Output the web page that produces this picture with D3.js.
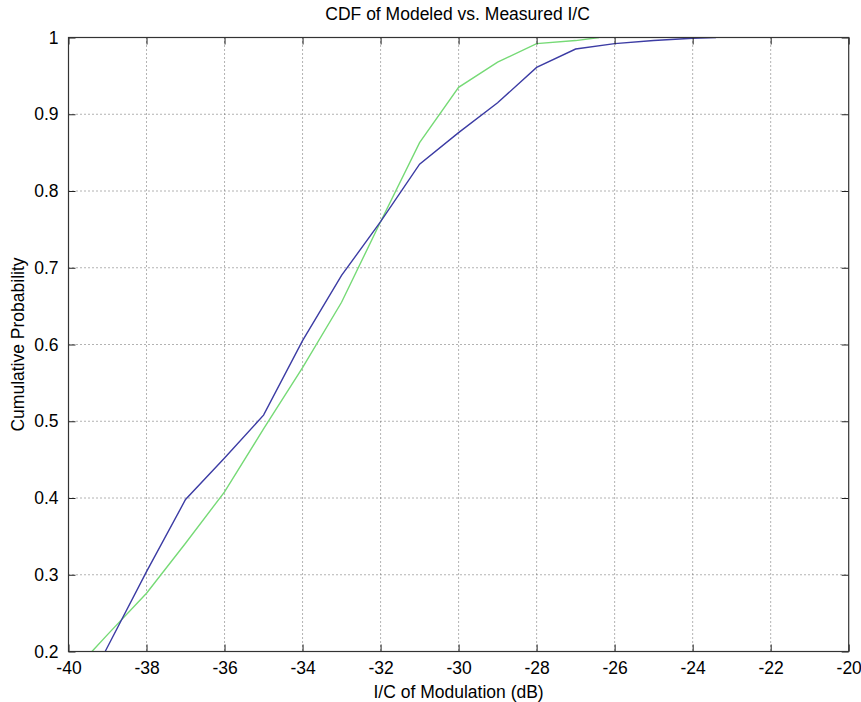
<!DOCTYPE html>
<html>
<head>
<meta charset="utf-8">
<script src="https://cdn.jsdelivr.net/npm/d3@7"></script>
<style>
  html, body { margin: 0; padding: 0; background: #fff; }
  svg { display: block; }
  text { font-family: "Liberation Sans", Arial, Helvetica, sans-serif; fill: #000; }
</style>
</head>
<body>
<svg id="chart" width="861" height="702"></svg>
<script>
// I/C of modulation (dB) and cumulative probability for each curve
const measuredX = [-39.06, -38, -37, -36, -35, -34, -33, -32, -31, -30, -29, -28, -27, -26, -25, -24, -23.4];
const measuredY = [0.2, 0.304, 0.398, 0.452, 0.508, 0.605, 0.69, 0.76, 0.835, 0.876, 0.915, 0.961, 0.985, 0.992, 0.996, 0.999, 1.0];

const modeledX = [-39.4, -39, -38, -37, -36, -35, -34, -33, -32, -31, -30, -29, -28, -27, -26.4];
const modeledY = [0.2, 0.222, 0.276, 0.341, 0.408, 0.49, 0.57, 0.655, 0.76, 0.863, 0.935, 0.968, 0.992, 0.996, 1.0];

const xTicks = [-40, -38, -36, -34, -32, -30, -28, -26, -24, -22, -20];
const yTicks = [0.2, 0.3, 0.4, 0.5, 0.6, 0.7, 0.8, 0.9, 1];

const titleText = "CDF of Modeled vs. Measured I/C";
const xLabelText = "I/C of Modulation (dB)";
const yLabelText = "Cumulative Probability";

const fontSize = "17.5px";
const margin = { left: 68.5, right: 861 - 848.7, top: 37.5, bottom: 702 - 651.5 };
const W = 861, H = 702;
const pw = W - margin.left - margin.right;
const ph = H - margin.top - margin.bottom;

const svg = d3.select("#chart");
const g = svg.append("g").attr("transform", `translate(${margin.left},${margin.top})`);

const x = d3.scaleLinear().domain([-40, -20]).range([0, pw]);
const y = d3.scaleLinear().domain([0.2, 1]).range([ph, 0]);

// dotted grid
const grid = g.append("g").attr("class", "grid");
grid.selectAll("line.vx").data(xTicks.slice(1, -1)).join("line")
  .attr("x1", d => x(d)).attr("x2", d => x(d))
  .attr("y1", 0).attr("y2", ph)
  .attr("stroke", "#666").attr("stroke-width", 1).attr("stroke-dasharray", "1,3");
grid.selectAll("line.hy").data(yTicks.slice(1, -1)).join("line")
  .attr("x1", 0).attr("x2", pw)
  .attr("y1", d => y(d)).attr("y2", d => y(d))
  .attr("stroke", "#666").attr("stroke-width", 1).attr("stroke-dasharray", "1,3");

// data curves, clipped to the axes box
svg.append("clipPath").attr("id", "plotClip")
  .append("rect").attr("x", 0).attr("y", 0).attr("width", pw).attr("height", ph);

const line = d3.line().x(d => x(d[0])).y(d => y(d[1]));
const curves = g.append("g").attr("clip-path", "url(#plotClip)");
curves.append("path")
  .datum(modeledX.map((v, i) => [v, modeledY[i]]))
  .attr("d", line).attr("fill", "none")
  .attr("stroke", "#76da76").attr("stroke-width", 1.4);
curves.append("path")
  .datum(measuredX.map((v, i) => [v, measuredY[i]]))
  .attr("d", line).attr("fill", "none")
  .attr("stroke", "#3c3ca4").attr("stroke-width", 1.4);

// axes: ticks pointing inward on all four sides
const tickLen = 7;
const axStyle = sel => {
  sel.select(".domain").remove();
  sel.selectAll(".tick line").attr("stroke", "#222");
  sel.selectAll(".tick text").attr("font-family", null).attr("font-size", null)
    .style("font-size", fontSize);
};
// plain hyphen for negative tick labels
const fmtX = d => String(d);
g.append("g").attr("transform", `translate(0,${ph})`)
  .call(d3.axisBottom(x).tickValues(xTicks).tickFormat(fmtX)
    .tickSizeInner(-tickLen).tickSizeOuter(0).tickPadding(tickLen + 3))
  .call(axStyle);
g.append("g")
  .call(d3.axisTop(x).tickValues(xTicks).tickFormat("")
    .tickSizeInner(-tickLen).tickSizeOuter(0))
  .call(axStyle);
g.append("g")
  .call(d3.axisLeft(y).tickValues(yTicks).tickFormat(d => d === 1 ? "1" : d3.format(".1f")(d))
    .tickSizeInner(-tickLen).tickSizeOuter(0).tickPadding(tickLen + 3))
  .call(axStyle);
g.append("g").attr("transform", `translate(${pw},0)`)
  .call(d3.axisRight(y).tickValues(yTicks).tickFormat("")
    .tickSizeInner(-tickLen).tickSizeOuter(0))
  .call(axStyle);

// axes box
g.append("rect").attr("x", 0).attr("y", 0).attr("width", pw).attr("height", ph)
  .attr("fill", "none").attr("stroke", "#333").attr("stroke-width", 1.2);

// labels
svg.append("text").attr("x", margin.left + pw / 2 - 1).attr("y", 20)
  .attr("text-anchor", "middle").style("font-size", fontSize).text(titleText);
svg.append("text").attr("x", margin.left + pw / 2).attr("y", 697.5)
  .attr("text-anchor", "middle").style("font-size", fontSize).text(xLabelText);
svg.append("text")
  .attr("transform", `translate(24,${margin.top + ph / 2}) rotate(-90)`)
  .attr("text-anchor", "middle").style("font-size", fontSize).text(yLabelText);
</script>
</body>
</html>
